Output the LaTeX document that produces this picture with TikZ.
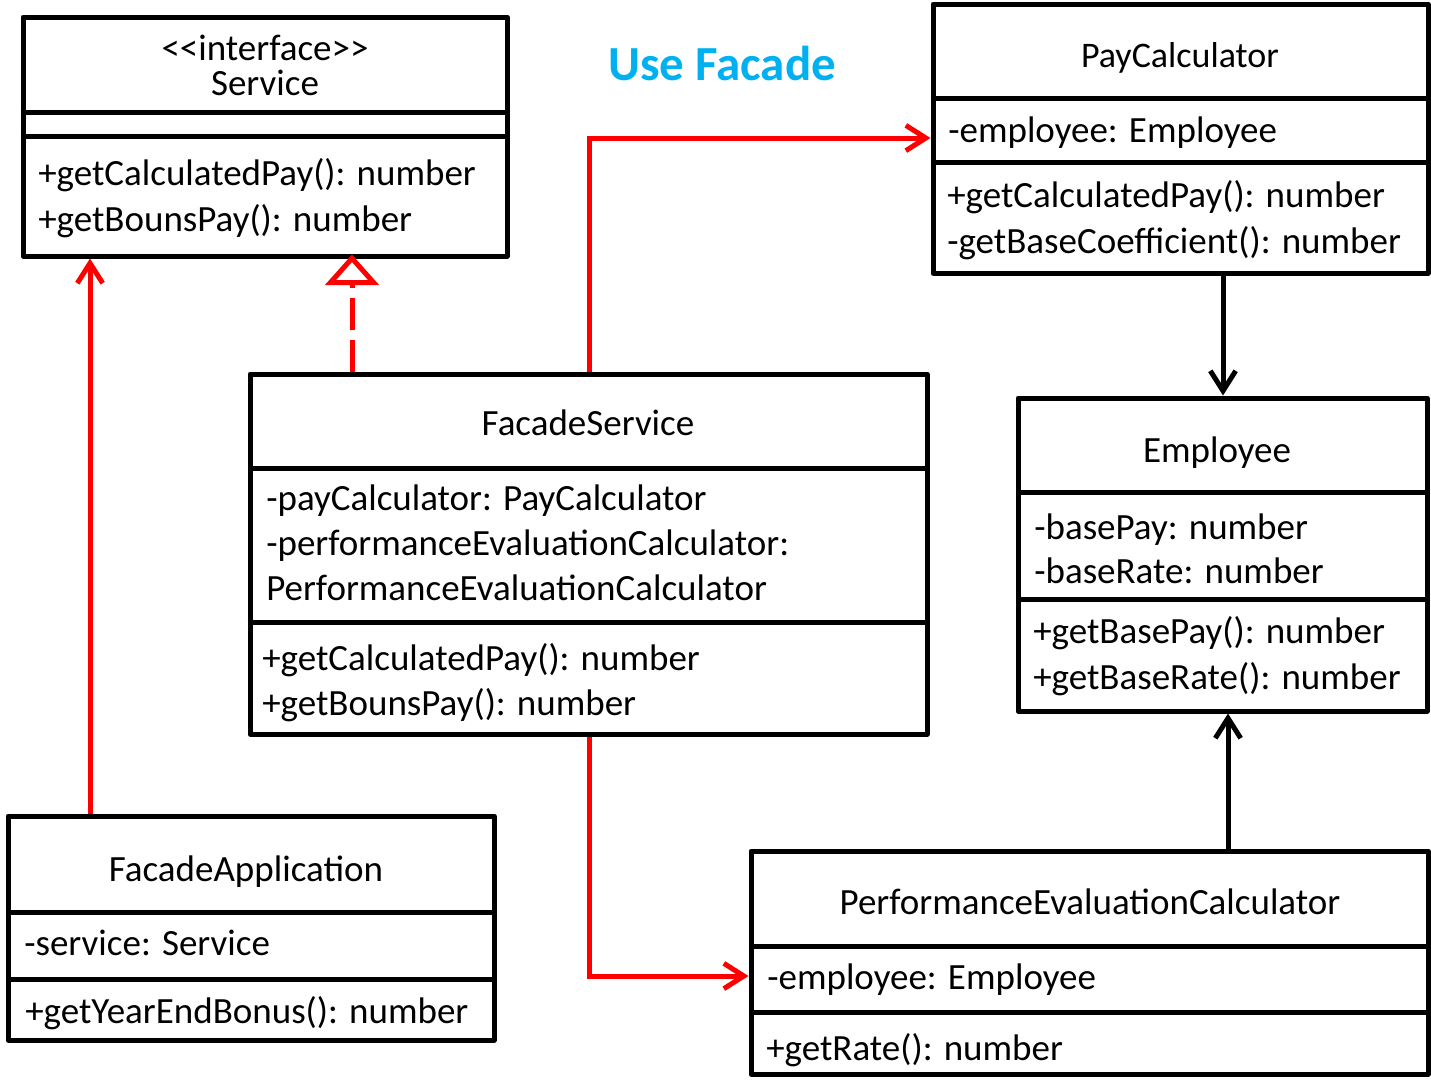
\documentclass[tikz,border=0pt]{standalone}
\usepackage{fontspec}
\setmainfont{Carlito}
\usetikzlibrary{arrows.meta,fit}
\definecolor{umlred}{RGB}{255,0,0}
\definecolor{titleblue}{RGB}{0,176,240}
\begin{document}
\begin{tikzpicture}[x=0.75pt,y=-0.75pt,
  box/.style={draw=black, line width=3.75pt, inner sep=0pt, line join=round},
  divider/.style={draw=black, line width=3.75pt},
  txt/.style={inner sep=0pt, yshift=-1.5pt, font=\fontsize{27.75}{33}\selectfont},
  mem/.style={txt, anchor=base west},
  hdr/.style={txt, anchor=base},
  redcon/.style={draw=umlred, line width=3.75pt},
  blkcon/.style={draw=black, line width=3.75pt},
  barb/.style={-{Straight Barb[length=15pt,width=19pt]}},
  realize/.style={-{Triangle[length=23pt,width=40pt,fill=white]}, dash pattern=on 24pt off 7.5pt, shorten >=-3pt}
]
\useasboundingbox (0,0) rectangle (1431,1089);

% title
\node[anchor=base, inner sep=0pt, text=titleblue, font=\bfseries\fontsize{36.75}{44}\selectfont] (title) at (722,80) {Use Facade};

% Service
\node[box, fit={(23,17) (507,256)}] (svc) {};
\draw[divider] (svc.west |- 0,112) -- (svc.east |- 0,112);
\draw[divider] (svc.west |- 0,136) -- (svc.east |- 0,136);
\node[hdr] (svcst) at (265,58) {<{}<interface>{}>};
\node[hdr] (svcname) at (265,93) {Service};
\node[mem] (svcm1) at (38,183) {+getCalculatedPay(): number};
\node[mem] (svcm2) at (38,229) {+getBounsPay(): number};

% PayCalculator
\node[box, fit={(933,4) (1428,273)}] (pc) {};
\draw[divider] (pc.west |- 0,98) -- (pc.east |- 0,98);
\draw[divider] (pc.west |- 0,162) -- (pc.east |- 0,162);
\node[hdr, font=\fontsize{27}{32}\selectfont] (pcname) at (1180,65) {PayCalculator};
\node[mem] (pca1) at (948,140) {-employee: Employee};
\node[mem] (pcm1) at (947,205) {+getCalculatedPay(): number};
\node[mem] (pcm2) at (947,251) {-getBaseCoefficient(): number};

% FacadeService
\node[box, fit={(250,374) (927,734)}] (fs) {};
\draw[divider] (fs.west |- 0,468) -- (fs.east |- 0,468);
\draw[divider] (fs.west |- 0,622) -- (fs.east |- 0,622);
\node[hdr] (fsname) at (588,433) {FacadeService};
\node[mem] (fsa1) at (266,508) {-payCalculator: PayCalculator};
\node[mem] (fsa2) at (266,553) {-performanceEvaluationCalculator:};
\node[mem] (fsa3) at (266,598) {PerformanceEvaluationCalculator};
\node[mem] (fsm1) at (262,668) {+getCalculatedPay(): number};
\node[mem] (fsm2) at (262,713) {+getBounsPay(): number};

% Employee
\node[box, fit={(1018,398) (1427,711)}] (emp) {};
\draw[divider] (emp.west |- 0,492) -- (emp.east |- 0,492);
\draw[divider] (emp.west |- 0,599) -- (emp.east |- 0,599);
\node[hdr] (empname) at (1217,460) {Employee};
\node[mem] (empa1) at (1034,537) {-basePay: number};
\node[mem] (empa2) at (1034,581) {-baseRate: number};
\node[mem] (empm1) at (1033,641) {+getBasePay(): number};
\node[mem] (empm2) at (1033,687) {+getBaseRate(): number};

% FacadeApplication
\node[box, fit={(8,816) (494,1040)}] (app) {};
\draw[divider] (app.west |- 0,912) -- (app.east |- 0,912);
\draw[divider] (app.west |- 0,979) -- (app.east |- 0,979);
\node[hdr] (appname) at (246,879) {FacadeApplication};
\node[mem] (appa1) at (24,953) {-service: Service};
\node[mem] (appm1) at (25,1021) {+getYearEndBonus(): number};

% PerformanceEvaluationCalculator
\node[box, fit={(751,851) (1428,1074)}] (pe) {};
\draw[divider] (pe.west |- 0,946) -- (pe.east |- 0,946);
\draw[divider] (pe.west |- 0,1012) -- (pe.east |- 0,1012);
\node[hdr] (pename) at (1090,912) {PerformanceEvaluationCalculator};
\node[mem] (pea1) at (767,987) {-employee: Employee};
\node[mem] (pem1) at (766,1058) {+getRate(): number};

% connectors
\draw[redcon, barb] (app.north -| 90,0) -- (svc.south -| 90,0);
\draw[redcon, realize] (fs.north -| 352,0) -- (svc.south -| 352,0);
\draw[redcon, barb] (fs.north -| 589,0) |- (pc.west |- 0,138);
\draw[redcon, barb] (fs.south -| 589,0) |- (pe.west |- 0,976);
\draw[blkcon, barb] (pc.south -| 1223,0) -- (emp.north -| 1223,0);
\draw[blkcon, barb] (pe.north -| 1228,0) -- (emp.south -| 1228,0);
\end{tikzpicture}
\end{document}
